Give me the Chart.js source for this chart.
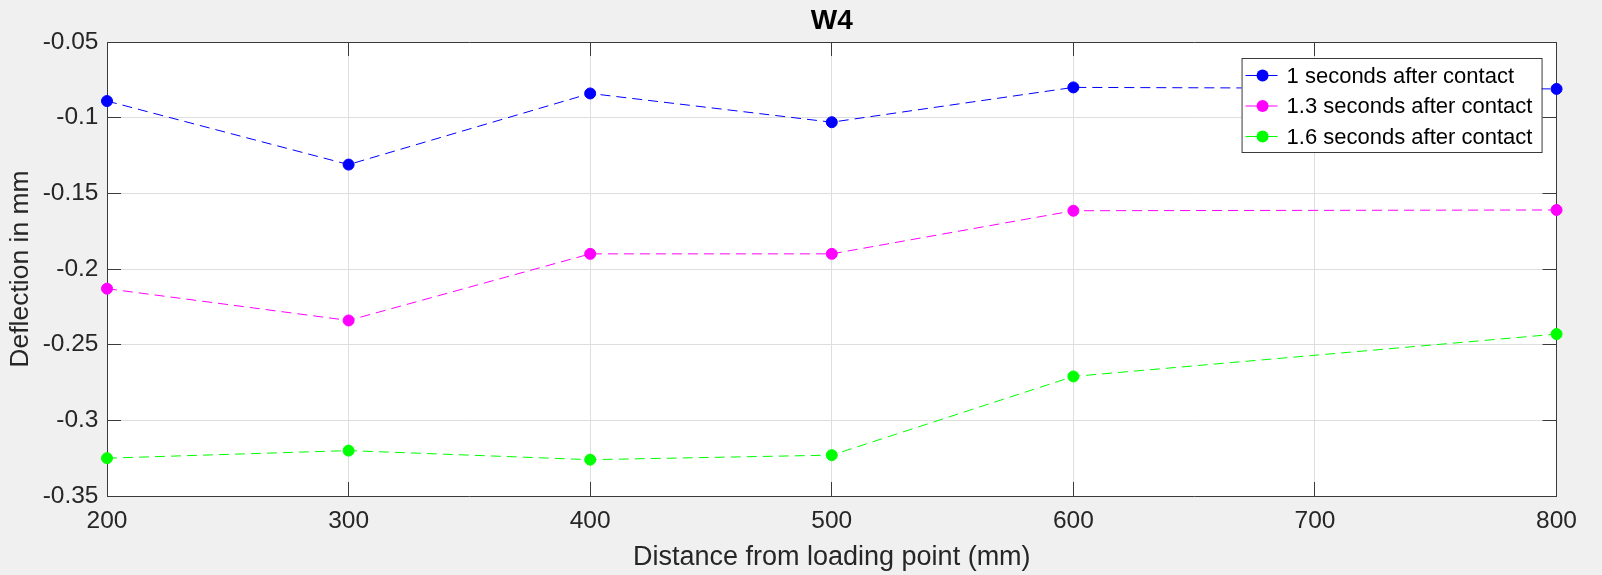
<!DOCTYPE html>
<html>
<head>
<meta charset="utf-8">
<title>W4</title>
<script src="https://cdn.jsdelivr.net/npm/chart.js@4.4.1/dist/chart.umd.min.js"></script>
<style>
  html, body { margin: 0; padding: 0; background: #f0f0f0; }
  canvas { display: block; }
</style>
</head>
<body>
<canvas id="w4Chart" width="1602" height="575"></canvas>
<script>
// valores
const distancias = [200, 300, 400, 500, 600, 800];
const deflexao1s = [-0.089, -0.131, -0.084, -0.103, -0.080, -0.081];
const deflexao13s = [-0.213, -0.234, -0.190, -0.190, -0.1615, -0.161];
const deflexao16s = [-0.325, -0.320, -0.326, -0.323, -0.271, -0.243];
const nomesSeries = ['1 seconds after contact', '1.3 seconds after contact', '1.6 seconds after contact'];
const coresSeries = ['#0000ff', '#ff00ff', '#00ff00'];
const ticksX = [200, 300, 400, 500, 600, 700, 800];
const ticksY = [-0.35, -0.3, -0.25, -0.2, -0.15, -0.1, -0.05];

const fonte = '"Liberation Sans", Arial, Helvetica, sans-serif';
const corTexto = '#262626';
const corEixo = '#3a3a3a';
const corGrade = '#dedede';

function serie(valores) {
    return distancias.map((d, i) => ({ x: d, y: valores[i] }));
}

function dataset(label, valores, cor) {
    return {
        label: label,
        data: serie(valores),
        borderColor: cor,
        backgroundColor: cor,
        borderWidth: 1,
        borderDash: [10, 6],
        pointRadius: 5.5,
        pointBorderWidth: 1,
        pointBackgroundColor: cor,
        pointBorderColor: cor,
        tension: 0,
        clip: false
    };
}

// fundo branco só na área do gráfico
const fundoArea = {
    id: 'fundoArea',
    beforeDraw(chart) {
        const { ctx, chartArea } = chart;
        ctx.save();
        ctx.fillStyle = '#ffffff';
        ctx.fillRect(chartArea.left, chartArea.top, chartArea.right - chartArea.left, chartArea.bottom - chartArea.top);
        ctx.restore();
    }
};

// legenda dentro do gráfico, com caixa
const legendaCaixa = {
    id: 'legendaCaixa',
    afterDraw(chart) {
        const { ctx, chartArea } = chart;
        const w = 300, h = 94;
        const left = chartArea.right - 15 - w;
        const top = chartArea.top + 16;
        ctx.save();
        ctx.fillStyle = '#ffffff';
        ctx.fillRect(left, top, w, h);
        ctx.strokeStyle = corEixo;
        ctx.lineWidth = 1;
        ctx.strokeRect(left + 0.5, top + 0.5, w, h);
        chart.data.datasets.forEach((ds, i) => {
            const y = top + 17.5 + i * 30.5;
            ctx.strokeStyle = ds.borderColor;
            ctx.beginPath();
            ctx.moveTo(left + 4, y);
            ctx.lineTo(left + 36, y);
            ctx.stroke();
            ctx.fillStyle = ds.borderColor;
            ctx.beginPath();
            ctx.arc(left + 21, y, 6, 0, 2 * Math.PI);
            ctx.fill();
            ctx.fillStyle = '#000000';
            ctx.font = '22px ' + fonte;
            ctx.textAlign = 'left';
            ctx.textBaseline = 'middle';
            ctx.fillText(ds.label, left + 45, y + 1);
        });
        ctx.restore();
    }
};

const ctx = document.getElementById('w4Chart').getContext('2d');
new Chart(ctx, {
    type: 'line',
    data: {
        datasets: [
            dataset(nomesSeries[0], deflexao1s, coresSeries[0]),
            dataset(nomesSeries[1], deflexao13s, coresSeries[1]),
            dataset(nomesSeries[2], deflexao16s, coresSeries[2])
        ]
    },
    options: {
        responsive: false,
        animation: false,
        devicePixelRatio: 1,
        layout: { padding: { top: 0, right: 27, left: 0, bottom: 0 } },
        plugins: {
            legend: { display: false },
            tooltip: { enabled: false },
            title: {
                display: true,
                text: 'W4',
                fullSize: false,
                color: '#000000',
                font: { size: 28, weight: 'bold', family: fonte, lineHeight: 22 / 28 },
                padding: { top: 10, bottom: 10 }
            }
        },
        scales: {
            x: {
                type: 'linear',
                position: 'bottom',
                min: 200,
                max: 800,
                afterBuildTicks: s => { s.ticks = ticksX.map(v => ({ value: v })); },
                afterFit: s => { s.height = 79; },
                ticks: {
                    padding: 25,
                    color: corTexto,
                    maxRotation: 0,
                    font: { size: 24.5, family: fonte },
                    callback: v => String(v)
                },
                grid: { color: corGrade, tickColor: corEixo, tickLength: -14, lineWidth: 1 },
                border: { color: corEixo, width: 1 },
                title: {
                    display: true,
                    text: 'Distance from loading point (mm)',
                    color: corTexto,
                    font: { size: 27, family: fonte },
                    padding: { top: 0, bottom: 0.8 }
                }
            },
            x2: {
                type: 'linear',
                position: 'top',
                min: 200,
                max: 800,
                afterBuildTicks: s => { s.ticks = ticksX.map(v => ({ value: v })); },
                afterFit: s => { s.height = 0; },
                ticks: { display: false },
                grid: { drawOnChartArea: false, tickColor: corEixo, tickLength: -14 },
                border: { color: corEixo, width: 1 }
            },
            y: {
                type: 'linear',
                position: 'left',
                min: -0.35,
                max: -0.05,
                afterBuildTicks: s => { s.ticks = ticksY.map(v => ({ value: v })); },
                afterFit: s => { s.width = 107; },
                ticks: {
                    padding: 22.5,
                    color: corTexto,
                    font: { size: 24.5, family: fonte },
                    callback: v => String(v)
                },
                grid: { color: corGrade, tickColor: corEixo, tickLength: -14, lineWidth: 1 },
                border: { color: corEixo, width: 1 },
                title: {
                    display: true,
                    text: 'Deflection in mm',
                    color: corTexto,
                    font: { size: 26.5, family: fonte },
                    padding: { top: 5, bottom: 0 }
                }
            },
            y2: {
                type: 'linear',
                position: 'right',
                min: -0.35,
                max: -0.05,
                afterBuildTicks: s => { s.ticks = ticksY.map(v => ({ value: v })); },
                afterFit: s => { s.width = 0; },
                ticks: { display: false },
                grid: { drawOnChartArea: false, tickColor: corEixo, tickLength: -14 },
                border: { color: corEixo, width: 1 }
            }
        }
    },
    plugins: [fundoArea, legendaCaixa]
});
</script>
</body>
</html>
